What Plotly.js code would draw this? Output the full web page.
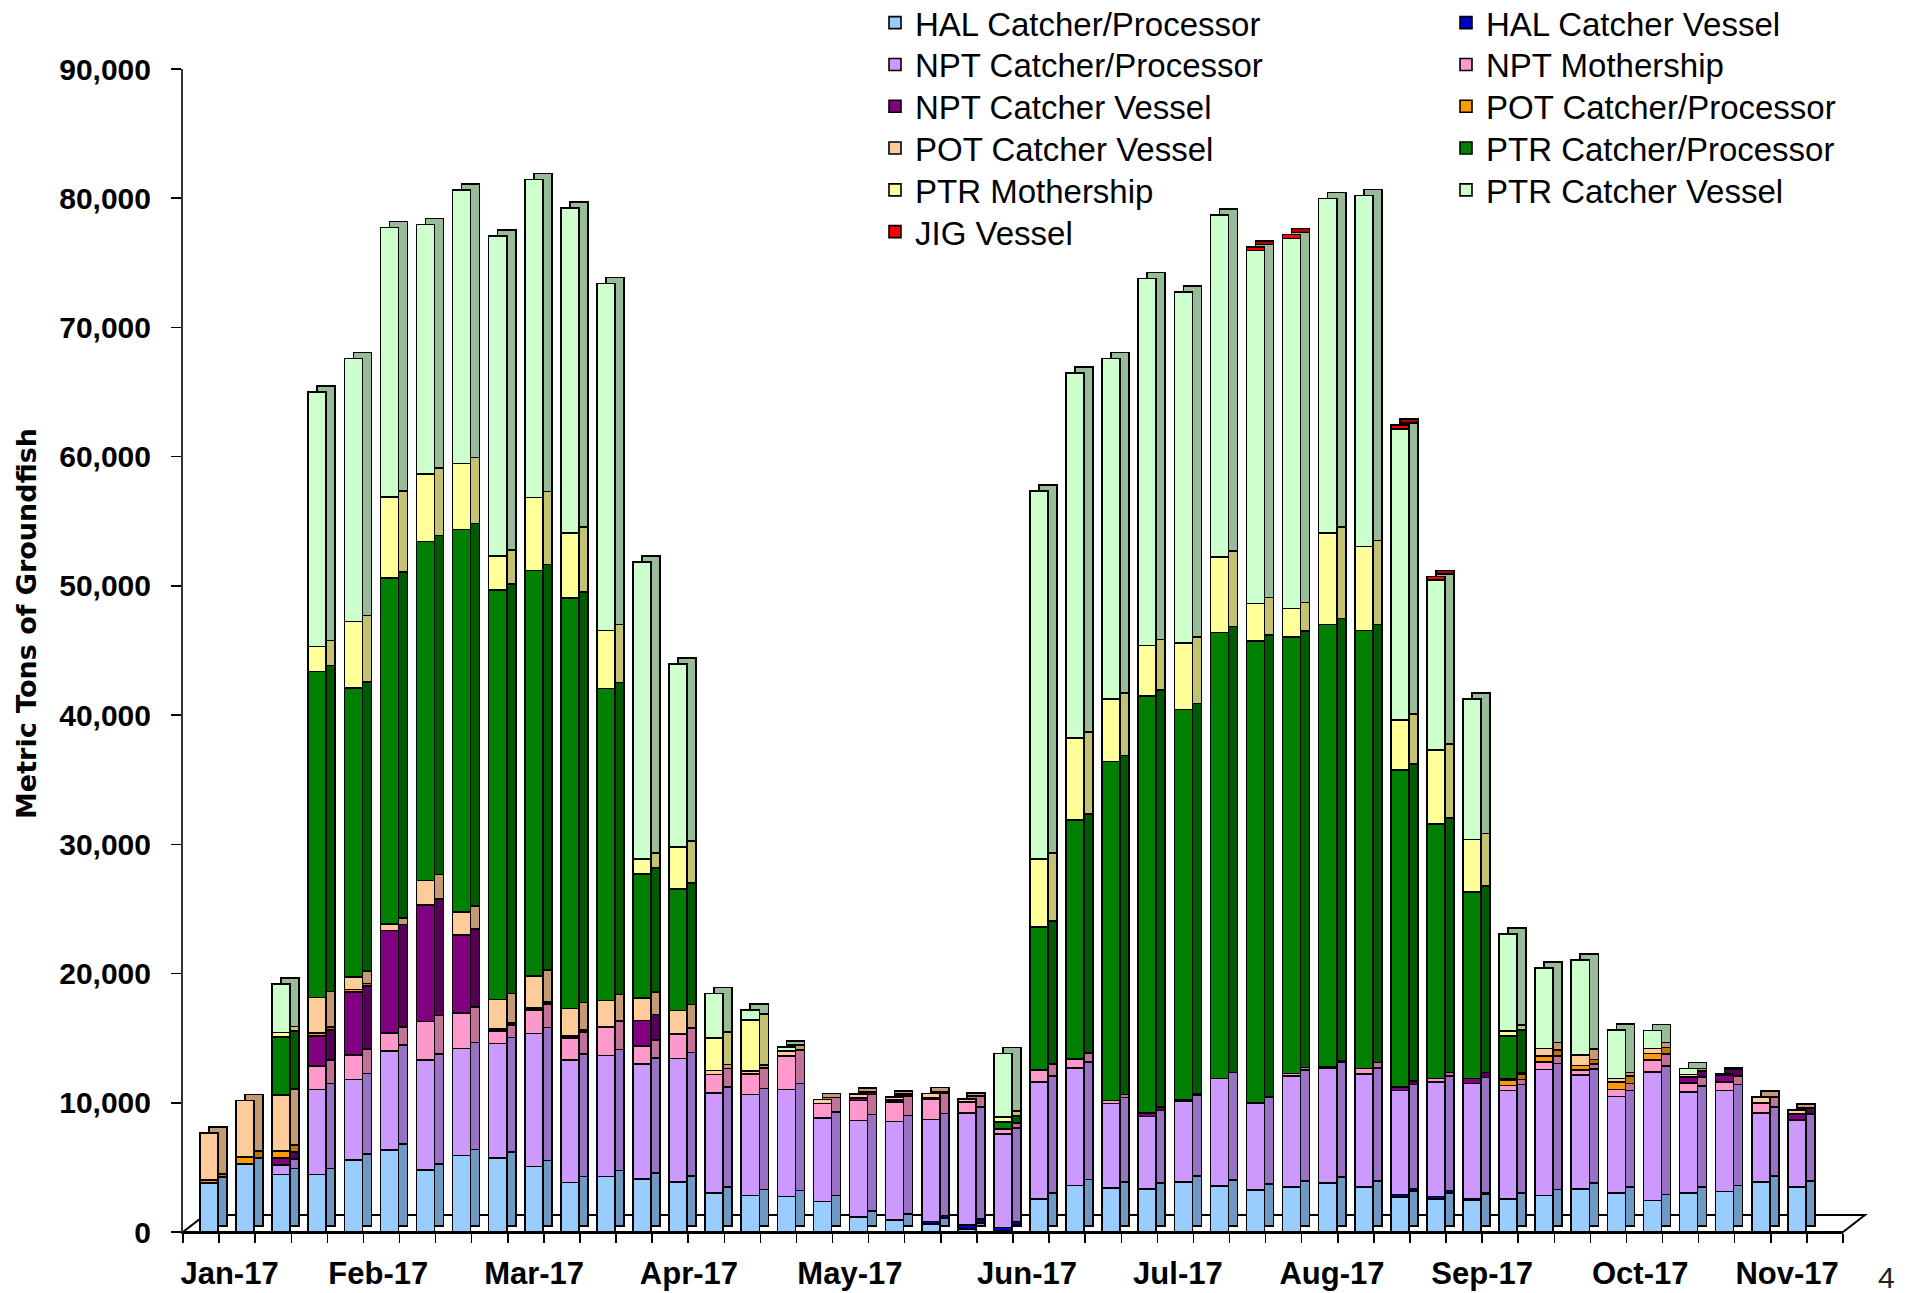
<!DOCTYPE html>
<html>
<head>
<meta charset="utf-8">
<script src="https://cdn.plot.ly/plotly-3.0.1.min.js"></script>
<style>
html,body{margin:0;padding:0;background:#ffffff;}
#chart{width:1907px;height:1293px;}
</style>
</head>
<body>
<div id="chart"></div>
<script>
// ---------------- DATA ----------------
// weekly categories (index of week, Jan-17 .. Nov-17; last slot empty)
const weeks = [0,1,2,3,4,5,6,7,8,9,10,11,12,13,14,15,16,17,18,19,20,21,22,23,24,25,26,27,28,29,30,31,32,33,34,35,36,37,38,39,40,41,42,43,44,45];
const monthLabels = ['Jan-17','Feb-17','Mar-17','Apr-17','May-17','Jun-17','Jul-17','Aug-17','Sep-17','Oct-17','Nov-17'];
const seriesNames = ['HAL Catcher/Processor','HAL Catcher Vessel','NPT Catcher/Processor','NPT Mothership','NPT Catcher Vessel','POT Catcher/Processor','POT Catcher Vessel','PTR Catcher/Processor','PTR Mothership','PTR Catcher Vessel','JIG Vessel'];
const yAxisTitle = 'Metric Tons of Groundfish';
const pageNumber = '4';

const halCP = [3780,5280,4450,4450,5590,6360,4810,5920,5720,5070,3830,4290,4090,3880,3000,2820,2740,2350,1140,880,620,230,100,2560,3590,3390,3340,3850,3540,3260,3470,3780,3470,2690,2560,2430,2560,2820,3340,3000,2430,3000,3150,3850,3470,null];
const halCV = [0,0,0,0,0,0,0,0,0,0,0,0,0,0,0,0,0,0,0,100,200,300,250,0,0,0,0,0,0,0,0,0,0,200,180,130,0,0,0,0,0,0,0,0,0,null];
const nptCP = [0,0,750,6570,6200,7660,8480,8280,8860,10290,9460,9360,8890,9560,7750,7830,8300,6470,7500,7580,7900,8680,7250,9050,9110,6540,5610,6260,8330,6670,8580,8870,8740,8070,8870,8920,8400,9750,8790,7500,9960,7840,7810,5350,5220,null];
const nptM  = [0,0,0,1810,1890,1390,2990,2760,990,1840,1710,2210,1420,1900,1450,1560,2560,1110,1550,1500,1550,800,390,910,700,260,0,0,0,0,210,130,440,0,260,0,390,590,390,520,900,690,650,730,0,null];
const nptCV = [0,0,540,2320,4910,7910,9040,6040,130,150,150,0,1980,0,0,0,0,0,200,150,150,100,0,0,0,0,250,100,0,100,0,0,0,250,0,400,0,0,0,0,0,470,520,100,460,null];
const potCP = [260,520,520,260,180,0,0,0,0,0,0,0,0,0,0,0,0,0,0,0,0,0,0,0,0,0,0,0,0,0,0,0,0,0,0,0,390,440,380,590,520,0,0,0,0,null];
const potCV = [3640,4390,4320,2740,970,500,1880,1780,2300,2440,2150,2040,1720,1790,300,260,420,330,300,240,290,160,0,0,0,0,0,0,0,0,0,0,0,0,0,0,150,600,780,260,390,200,130,400,310,null];
const ptrCP = [0,0,4520,25220,22380,26800,26250,29570,31660,31410,31750,24160,9600,9430,0,0,0,0,0,0,0,0,520,11060,18480,26220,32280,30240,34510,35710,33800,34240,33890,24550,19700,14420,3260,0,0,0,0,0,0,0,0,null];
const ptrM  = [0,0,340,1930,5120,6280,5220,5120,2670,5640,5050,4490,1180,3230,2500,3930,0,0,0,0,0,0,390,5300,6370,4850,3900,5130,5850,2890,2190,7080,6520,3880,5710,4070,420,0,0,0,0,0,0,0,0,null];
const ptrCV = [0,0,3750,19700,20370,20830,19300,21160,24770,24600,25150,26840,22970,14160,3450,800,300,0,0,0,0,0,4910,28450,28230,26340,28400,27170,26470,27340,28620,25890,27150,22500,13180,10890,7490,6210,7350,3770,1400,450,0,0,0,null];
const jig   = [0,0,0,0,0,0,0,0,0,0,0,0,0,0,0,0,0,0,0,0,0,0,0,0,0,0,0,0,0,260,320,0,0,320,260,0,0,0,0,0,0,0,0,0,0,null];

const seriesValues = [halCP, halCV, nptCP, nptM, nptCV, potCP, potCV, ptrCP, ptrM, ptrCV, jig];

// ---------------- STYLE ----------------
const frontColors = ['#99CCFF','#0000CC','#CC99FF','#FF99CC','#800080','#FF9900','#FFCC99','#008000','#FFFF99','#CCFFCC','#FF0000'];
const sideColors  = ['#6F98C2','#000090','#9A72C4','#C27299','#580058','#C07300','#C49A72','#005A00','#C2C270','#97BC97','#B00000'];

const W = 1907, H = 1293;
const M = {l:183, r:64, t:69, b:61, autoexpand:false};
const plotW = W - M.l - M.r;   // 1660
const plotH = H - M.t - M.b;   // 1163
const xRange = [-0.72, 45.28];
const yRange = [0, 90000];
const catPx = plotW / (xRange[1] - xRange[0]);
const depthX = 9, depthY = 6;  // pseudo-3D depth of bar sides (px)
const dx = depthX / catPx;
const dy = depthY * (yRange[1] - yRange[0]) / plotH;
const monthTickPos = [0.57, 4.69, 9.01, 13.30, 17.76, 22.67, 26.85, 31.12, 35.28, 39.66, 43.73];

const lineStyle = {color:'#000000', width:1.6};
const legendFont = {family:'Liberation Sans, Arial, sans-serif', size:33, color:'#000000'};
const legendColX = [875, 1446];        // px, left edge of each legend column
const legendRowTop = -5.3, legendRowStep = 41.8; // px

const traces = [];
const legends = {};
// depth (side/top faces), drawn underneath
seriesValues.forEach((vals, i) => {
  traces.push({
    type:'bar', x:weeks, y:vals, xaxis:'x', yaxis:'y', width:0.5,
    marker:{color:sideColors[i], line:lineStyle},
    showlegend:false, hoverinfo:'skip'
  });
});
// front faces, each with its own one-item legend box placed in a 2-column grid
seriesValues.forEach((vals, i) => {
  const id = i === 0 ? 'legend' : 'legend' + (i + 1);
  const col = i % 2, row = Math.floor(i / 2);
  const topPx = legendRowTop + legendRowStep * row;
  legends[id] = {
    xref:'paper', yref:'paper',
    x:(legendColX[col] - M.l) / plotW, y:1 + (M.t - topPx) / plotH,
    xanchor:'left', yanchor:'top', orientation:'v', traceorder:'normal',
    font:legendFont, bgcolor:'rgba(0,0,0,0)', borderwidth:0
  };
  traces.push({
    type:'bar', name:seriesNames[i], x:weeks, y:vals, xaxis:'x2', yaxis:'y2', width:0.5,
    marker:{color:frontColors[i], line:lineStyle},
    legend:id
  });
});

const boldFont = {family:'Liberation Sans, Arial, sans-serif', size:30, color:'#000000', weight:'bold'};
const floorDx = 22 / plotW, floorDy = 17 / plotH;

const layout = Object.assign({
  width:W, height:H,
  margin:M,
  paper_bgcolor:'#ffffff',
  plot_bgcolor:'rgba(0,0,0,0)',
  barmode:'stack',
  showlegend:true,
  xaxis:{range:[xRange[0]-dx, xRange[1]-dx], visible:false, fixedrange:true},
  yaxis:{range:[yRange[0]-dy, yRange[1]-dy], visible:false, fixedrange:true},
  xaxis2:{
    overlaying:'x', anchor:'y2', side:'bottom', range:xRange,
    tickmode:'array', tickvals:monthTickPos, ticktext:monthLabels,
    ticks:'', ticklen:0, ticklabelstandoff:13,
    tickfont:{family:'Liberation Sans, Arial, sans-serif', size:31, color:'#000000', weight:'bold'},
    minor:{ticks:'outside', tickmode:'linear', tick0:xRange[0], dtick:1, ticklen:9, tickwidth:1.5, tickcolor:'#000000', showgrid:false},
    showline:true, linecolor:'#000000', linewidth:2,
    showgrid:false, zeroline:false, fixedrange:true
  },
  yaxis2:{
    overlaying:'y', anchor:'x2', side:'left', range:yRange,
    tickmode:'linear', tick0:0, dtick:10000, tickformat:',d',
    ticks:'outside', ticklen:10, tickwidth:1.5, tickcolor:'#000000',
    ticklabelstandoff:14,
    tickfont:boldFont,
    showline:true, linecolor:'#333333', linewidth:2,
    showgrid:false, zeroline:false, fixedrange:true
  },
  shapes:[{
    type:'path', xref:'paper', yref:'paper', layer:'below',
    path:'M0,0 L1,0 L' + (1+floorDx) + ',' + floorDy + ' L' + floorDx + ',' + floorDy + ' Z',
    fillcolor:'#ffffff', line:{color:'#000000', width:2}
  }],
  annotations:[
    {
      xref:'paper', yref:'paper', x:(26-M.l)/plotW, y:(M.t+plotH-624)/plotH,
      text:yAxisTitle, textangle:-90, showarrow:false, xanchor:'center', yanchor:'middle',
      font:{family:'DejaVu Sans, Liberation Sans, sans-serif', size:27, color:'#000000', weight:'bold'}
    },
    {
      xref:'paper', yref:'paper', x:(1886-M.l)/plotW, y:-(1277-(M.t+plotH))/plotH,
      text:pageNumber, showarrow:false, xanchor:'center', yanchor:'middle',
      font:{family:'Liberation Sans, Arial, sans-serif', size:30, color:'#222222'}
    }
  ]
}, legends);

Plotly.newPlot('chart', traces, layout, {displayModeBar:false, staticPlot:true});
</script>
</body>
</html>
